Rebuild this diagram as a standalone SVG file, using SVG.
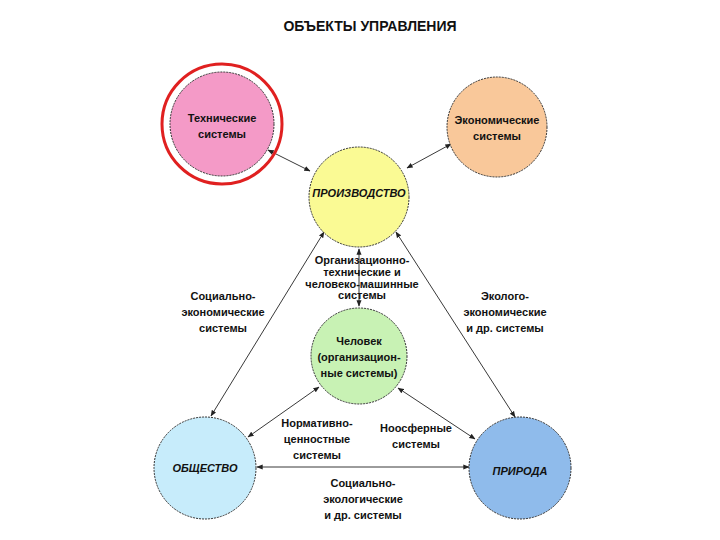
<svg xmlns="http://www.w3.org/2000/svg" width="720" height="540" viewBox="0 0 720 540">
<style>
text{font-family:"Liberation Sans",Arial,sans-serif;font-weight:bold;font-size:11px;fill:#111;text-anchor:middle}
.n{stroke:#333;stroke-width:1;stroke-dasharray:2 1}
.c line{stroke:#222;stroke-width:0.9;marker-start:url(#a);marker-end:url(#a)}
.i{font-style:italic}
</style>
<defs><marker id="a" viewBox="0 0 10 10" refX="9" refY="5" markerWidth="7" markerHeight="7" orient="auto-start-reverse"><path d="M0,1L10,5L0,9z" fill="#222"/></marker></defs>
<rect width="720" height="540" fill="#fff"/>
<text x="370" y="31" style="font-size:14px">ОБЪЕКТЫ УПРАВЛЕНИЯ</text>
<g class="c">
<line x1="310" y1="171" x2="268" y2="150"/>
<line x1="407" y1="168" x2="451" y2="144"/>
<line x1="359" y1="249" x2="359" y2="306"/>
<line x1="324" y1="232" x2="211" y2="416"/>
<line x1="396" y1="232" x2="515" y2="417"/>
<line x1="319" y1="387" x2="248" y2="437"/>
<line x1="398" y1="388" x2="475" y2="439"/>
<line x1="257" y1="467" x2="469" y2="467"/>
</g>
<g id="tech"><circle cx="222" cy="124" r="60" fill="none" stroke="#e02020" stroke-width="3"/><circle class="n" cx="222" cy="124" r="52" fill="#f49ac7"/><text x="222" y="122">Технические</text><text x="222" y="138">системы</text></g>
<g id="econ"><circle class="n" cx="497" cy="127" r="50" fill="#f9c89a"/><text x="497" y="124">Экономические</text><text x="497" y="140">системы</text></g>
<g id="prod"><circle class="n" cx="359" cy="197" r="50" fill="#fafa94"/><text class="i" x="359" y="197">ПРОИЗВОДСТВО</text></g>
<g id="human"><circle class="n" cx="359" cy="356" r="48" fill="#c8f2b4"/><text x="359" y="345">Человек</text><text x="359" y="361">(организацион-</text><text x="359" y="377">ные системы)</text></g>
<g id="society"><circle class="n" cx="205" cy="468" r="51" fill="#c7ecfb"/><text class="i" x="205" y="472">ОБЩЕСТВО</text></g>
<g id="nature"><circle class="n" cx="520" cy="468" r="51" fill="#8fbbeb"/><text class="i" x="520" y="475">ПРИРОДА</text></g>
<g id="labels">
<text x="362" y="264">Организационно-</text><text x="362" y="276">технические и</text><text x="362" y="288">человеко-машинные</text><text x="362" y="299">системы</text>
<text x="223" y="300">Социально-</text><text x="223" y="316">экономические</text><text x="223" y="332">системы</text>
<text x="505" y="300">Эколого-</text><text x="505" y="316">экономические</text><text x="505" y="332">и др. системы</text>
<text x="317" y="427">Нормативно-</text><text x="317" y="443">ценностные</text><text x="317" y="459">системы</text>
<text x="416" y="432">Ноосферные</text><text x="416" y="448">системы</text>
<text x="363" y="487">Социально-</text><text x="363" y="503">экологические</text><text x="363" y="519">и др. системы</text>
</g>
</svg>
